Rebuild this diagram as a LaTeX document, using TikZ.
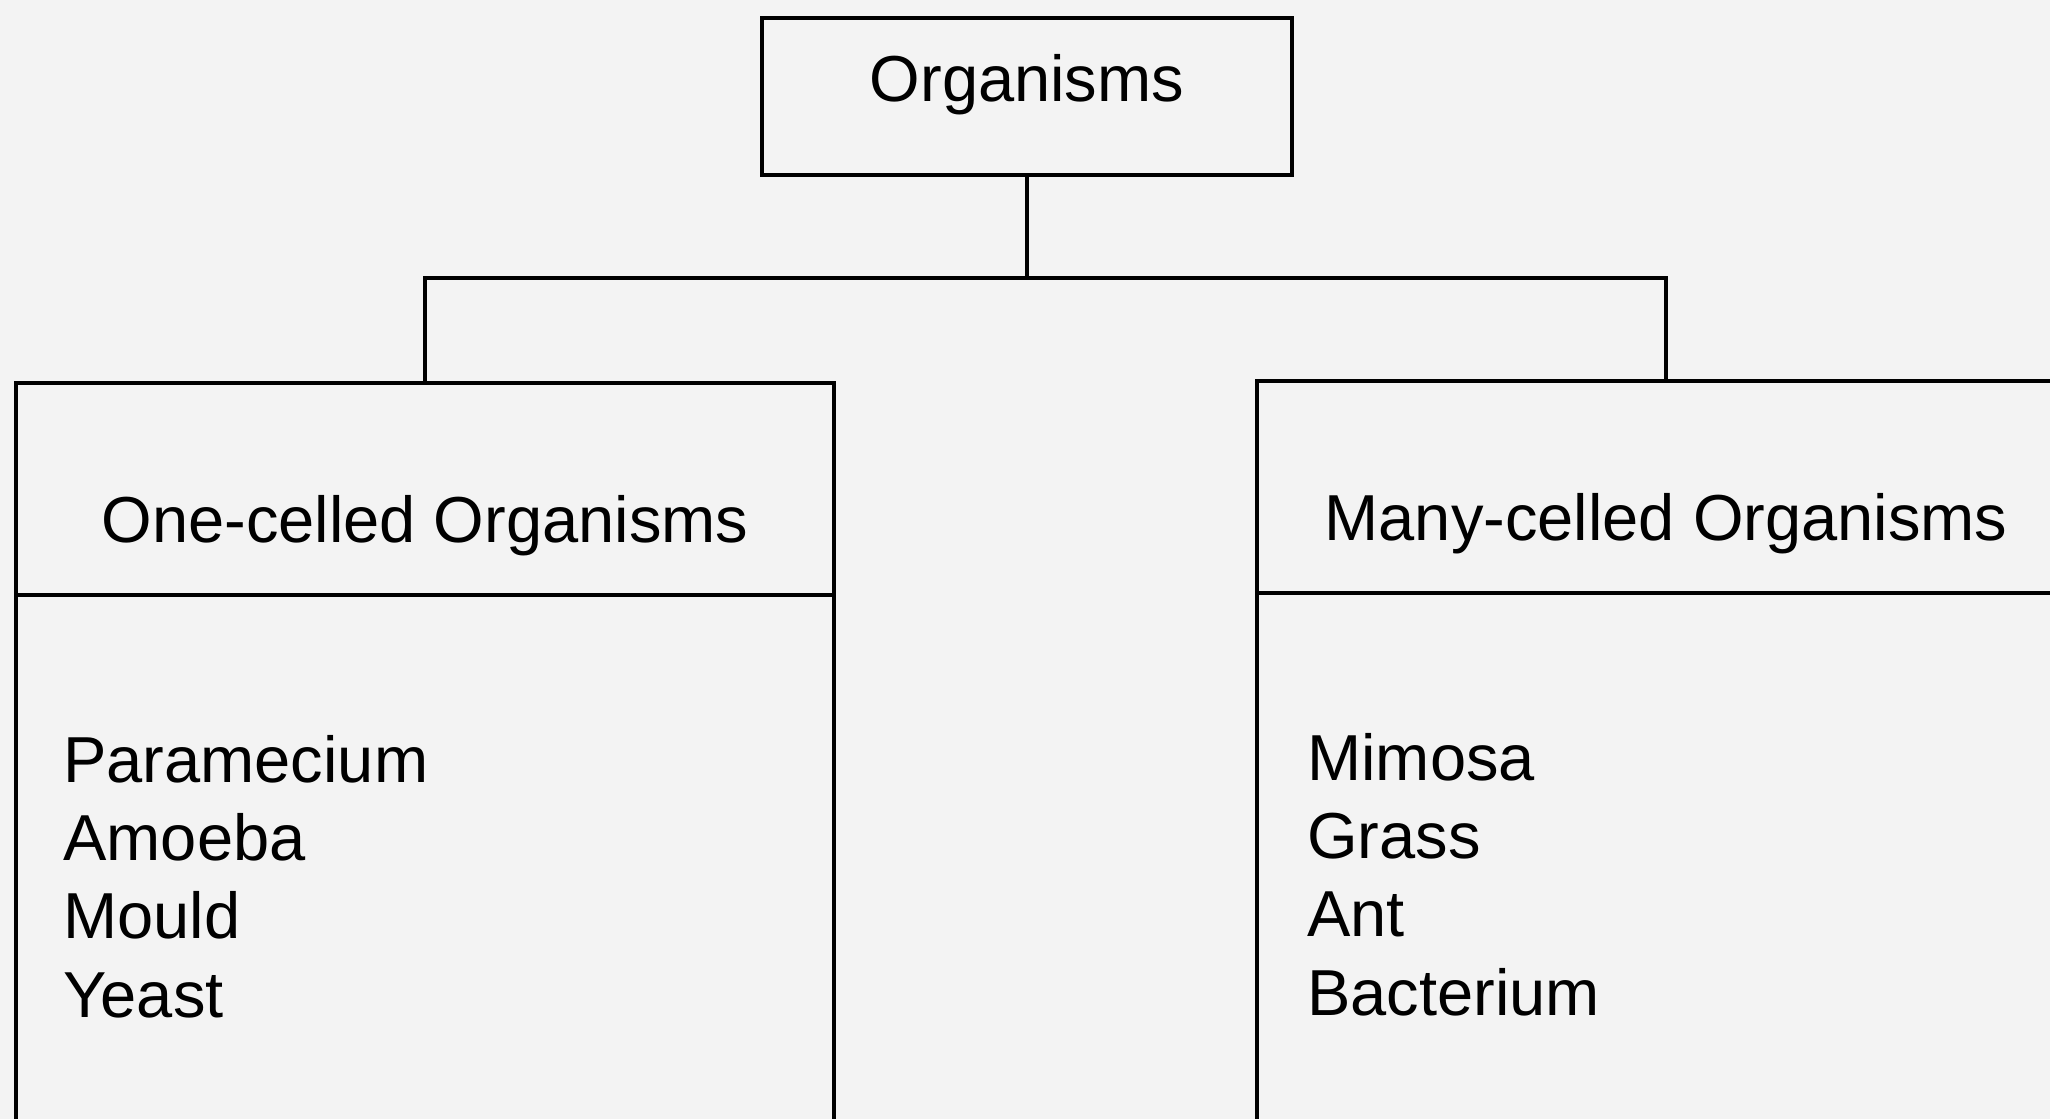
\documentclass[tikz,border=0pt]{standalone}
\usepackage{fontspec}
\setmainfont{Liberation Sans}
\usetikzlibrary{positioning}
\definecolor{paper}{HTML}{F3F3F3}

\begin{document}
\begin{tikzpicture}[x=0.02cm,y=-0.02cm,node distance=0pt,
  font=\fontsize{37}{44.5}\selectfont,
  topbox/.style={draw,line width=2.7pt,inner sep=0pt,outer sep=0pt,minimum width=10.6cm,
    text height=1.68cm,text depth=1.46cm},
  headbox/.style={draw,line width=2.5pt,inner sep=0pt,outer sep=0pt,minimum width=16.36cm,
    text height=3.2cm,text depth=1.04cm},
  listbox/.style={draw,line width=2.5pt,inner sep=0pt,outer sep=0pt,minimum width=16.36cm,
    minimum height=12cm},
  items/.style={align=left,inner sep=0pt},
  link/.style={line width=2.7pt}]
  \fill[paper] (0,0) rectangle (2050,1119);
  \clip (0,0) rectangle (2050,1119);
  \node[topbox] (org) at (1027,96.5) {Organisms};
  \node[headbox] (onehead) at (425,489) {One-celled Organisms};
  \node[headbox] (manyhead) at (1666,487) {Many-celled Organisms};
  \node[listbox,below=of onehead] (onelist) {};
  \node[listbox,below=of manyhead] (manylist) {};
  % base anchor sits on the last line
  \node[items,anchor=base west] (oneitems) at (63,1017) {Paramecium\\Amoeba\\Mould\\Yeast};
  \node[items,anchor=base west] (manyitems) at (1307,1015) {Mimosa\\Grass\\Ant\\Bacterium};
  \coordinate (bus) at (org.south |- 0,278);
  \draw[link] (org.south) -- (bus);
  \draw[link] (onehead.north) |- (bus) -| (manyhead.north);
\end{tikzpicture}
\end{document}
